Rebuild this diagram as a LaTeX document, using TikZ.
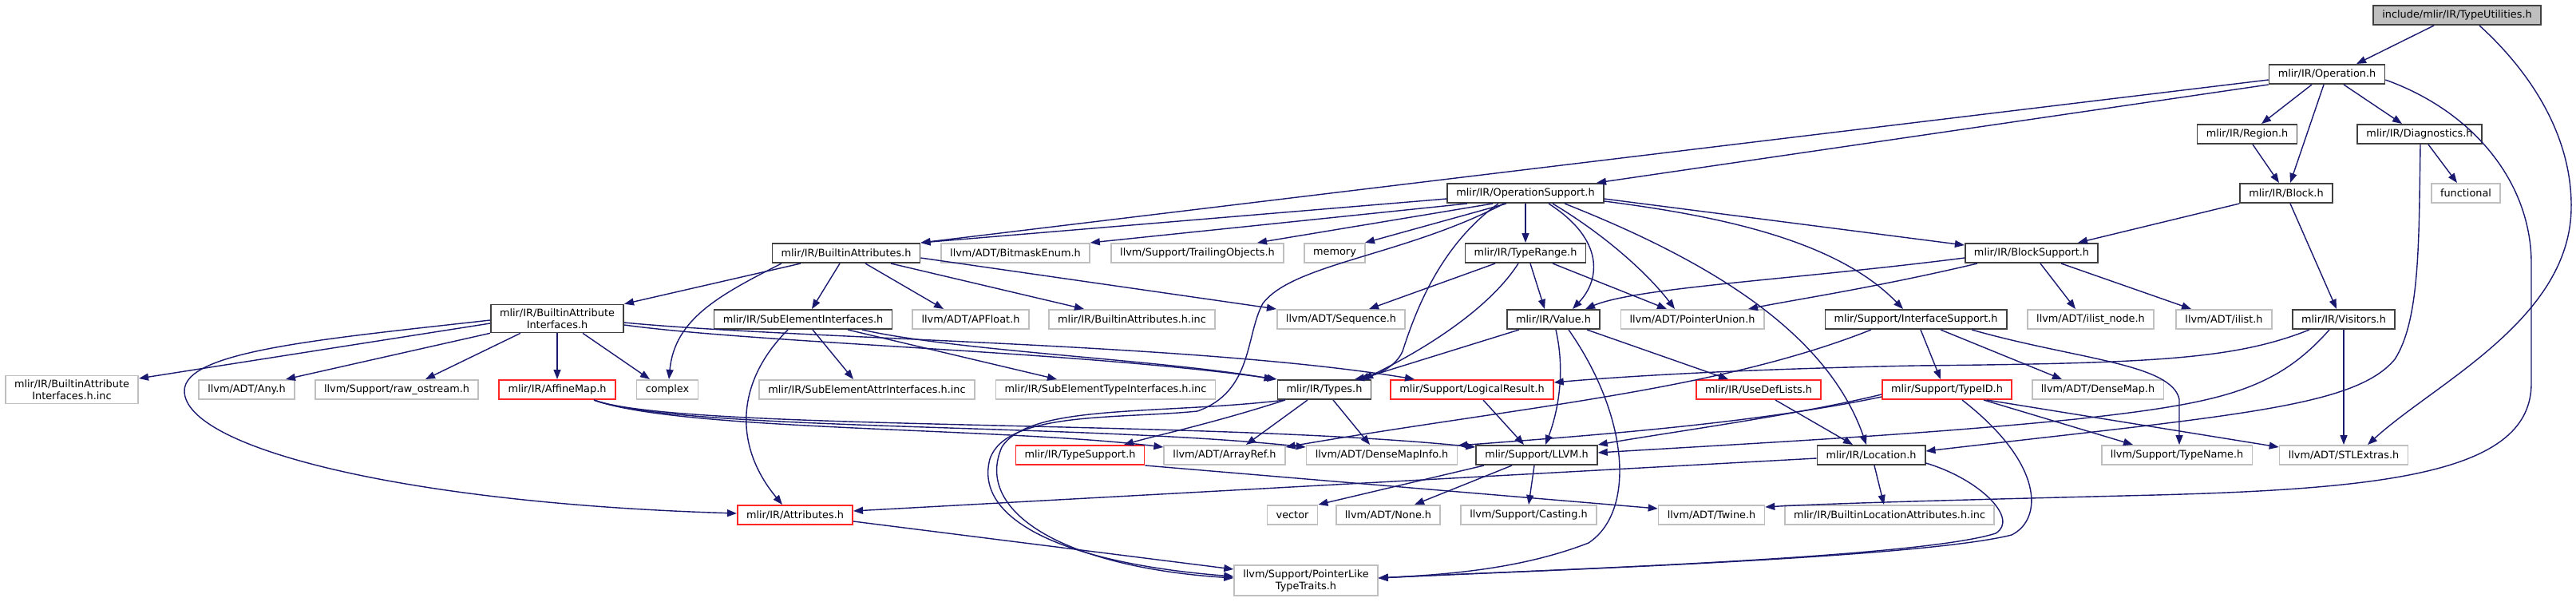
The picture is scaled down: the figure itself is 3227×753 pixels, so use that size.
\documentclass[tikz,border=0pt]{standalone}
\usepackage{fontspec}
\setmainfont{DejaVu Sans}
\usetikzlibrary{arrows.meta}

\definecolor{edgeblue}{HTML}{191970}
\tikzset{
  box/.style={draw, line width=1.7pt, inner xsep=11.2pt, inner ysep=5pt,
    minimum height=24.3pt, align=center, font=\fontsize{12.85}{15}\selectfont},
  doc/.style={box, draw=black!75},
  ext/.style={box, draw=black!25},
  trunc/.style={box, draw=red!85!white},
  rootbox/.style={box, draw=black!75, fill=black!25},
  edge/.style={draw=edgeblue, line width=1.4pt, -{Triangle[length=12pt,width=9pt]}},
}

\begin{document}
\begin{tikzpicture}[x=1pt,y=-1pt]
  % Sfondo
  \fill[white] (0,0) rectangle (3227,753);
  \useasboundingbox (0,0) rectangle (3227,753);
  % Livelli 0-3
  \node[rootbox] (root) at (3078,19) {include/mlir/IR/TypeUtilities.h};
  \node[doc] (op) at (2915,93) {mlir/IR/Operation.h};
  \node[doc] (region) at (2815,168) {mlir/IR/Region.h};
  \node[doc] (diag) at (3031,168) {mlir/IR/Diagnostics.h};
  \node[doc] (opsupp) at (1911,242) {mlir/IR/OperationSupport.h};
  \node[doc] (block) at (2864,242) {mlir/IR/Block.h};
  \node[ext] (functional) at (3089,242) {functional};
  % Livello 4
  \node[doc] (battr) at (1060,317) {mlir/IR/BuiltinAttributes.h};
  \node[ext] (bitmask) at (1272,317) {llvm/ADT/BitmaskEnum.h};
  \node[ext] (trailing) at (1500,317) {llvm/Support/TrailingObjects.h};
  \node[ext] (memory) at (1672,317) {memory};
  \node[doc] (typerange) at (1911,317) {mlir/IR/TypeRange.h};
  \node[doc] (blocksupp) at (2545,317) {mlir/IR/BlockSupport.h};
  % Livello 5
  \node[doc] (bai) at (698,399) {mlir/IR/BuiltinAttribute\\Interfaces.h};
  \node[doc] (subelem) at (1006,400) {mlir/IR/SubElementInterfaces.h};
  \node[ext] (apfloat) at (1216,400) {llvm/ADT/APFloat.h};
  \node[ext] (battrinc) at (1418,400) {mlir/IR/BuiltinAttributes.h.inc};
  \node[ext] (sequence) at (1680,400) {llvm/ADT/Sequence.h};
  \node[doc] (value) at (1946,400) {mlir/IR/Value.h};
  \node[ext] (punion) at (2120,400) {llvm/ADT/PointerUnion.h};
  \node[doc] (ifsupp) at (2400,400) {mlir/Support/InterfaceSupport.h};
  \node[ext] (ilistnode) at (2619,400) {llvm/ADT/ilist\_node.h};
  \node[ext] (ilist) at (2786,400) {llvm/ADT/ilist.h};
  \node[doc] (visitors) at (2936,400) {mlir/IR/Visitors.h};
  % Livello 6
  \node[ext] (baiinc) at (90,488) {mlir/IR/BuiltinAttribute\\Interfaces.h.inc};
  \node[ext] (any) at (309,488) {llvm/ADT/Any.h};
  \node[ext] (rawos) at (497,488) {llvm/Support/raw\_ostream.h};
  \node[trunc] (affine) at (698,488) {mlir/IR/AffineMap.h};
  \node[ext] (complex) at (836,488) {complex};
  \node[ext] (seattr) at (1086,488) {mlir/IR/SubElementAttrInterfaces.h.inc};
  \node[ext] (setype) at (1385,488) {mlir/IR/SubElementTypeInterfaces.h.inc};
  \node[doc] (types) at (1659,488) {mlir/IR/Types.h};
  \node[trunc] (logres) at (1844,488) {mlir/Support/LogicalResult.h};
  \node[trunc] (usedef) at (2203,488) {mlir/IR/UseDefLists.h};
  \node[trunc] (typeid) at (2439,488) {mlir/Support/TypeID.h};
  \node[ext] (densemap) at (2628,488) {llvm/ADT/DenseMap.h};
  % Livello 7
  \node[trunc] (typesupp) at (1353,570) {mlir/IR/TypeSupport.h};
  \node[ext] (arrayref) at (1534,570) {llvm/ADT/ArrayRef.h};
  \node[ext] (dmi) at (1731,570) {llvm/ADT/DenseMapInfo.h};
  \node[doc] (llvm) at (1925,570) {mlir/Support/LLVM.h};
  \node[doc] (location) at (2344,570) {mlir/IR/Location.h};
  \node[ext] (typename) at (2727,570) {llvm/Support/TypeName.h};
  \node[ext] (stlextras) at (2936,570) {llvm/ADT/STLExtras.h};
  % Livelli 8-9
  \node[trunc] (attributes) at (996,645) {mlir/IR/Attributes.h};
  \node[ext] (vector) at (1619,645) {vector};
  \node[ext] (nonehdr) at (1739,645) {llvm/ADT/None.h};
  \node[ext] (casting) at (1915,645) {llvm/Support/Casting.h};
  \node[ext] (twine) at (2144,645) {llvm/ADT/Twine.h};
  \node[ext] (blai) at (2367,645) {mlir/IR/BuiltinLocationAttributes.h.inc};
  \node[ext] (plt) at (1636,727) {llvm/Support/PointerLike\\TypeTraits.h};

  % Archi: radice e Operation
  \draw[edge] ([xshift=-29]root.south) -- ([xshift=37]op.north);
  \draw[edge] ([xshift=28]root.south) .. controls (3170,90) and (3222,170) .. (3221,260) .. controls (3220,400) and (3050,480) .. ([xshift=30]stlextras.north);
  \draw[edge] ([yshift=-7]op.west) -- (battr.north east);
  \draw[edge] (op.south west) -- ([xshift=89]opsupp.north);
  \draw[edge] ([xshift=-19]op.south) -- ([xshift=18]region.north);
  \draw[edge] ([xshift=-4]op.south) -- ([xshift=5]block.north);
  \draw[edge] ([xshift=21]op.south) -- ([xshift=-22]diag.north);
  \draw[edge] ([yshift=-7]op.east) .. controls (3100,140) and (3171,230) .. (3171,330) -- (3171,480) .. controls (3171,590) and (3000,612) .. (2700,620) .. controls (2500,625) and (2300,630) .. ([yshift=10]twine.east);
  \draw[edge] ([xshift=7]region.south) -- ([xshift=-9]block.north);
  \draw[edge] ([xshift=11]diag.south) -- ([xshift=-11]functional.north);
  \draw[edge] ([xshift=1]diag.south) .. controls (3030,300) and (3032,400) .. (3000,450) .. controls (2950,510) and (2800,520) .. ([yshift=5]location.east);
  \draw[edge] (block.south west) -- ([xshift=58]blocksupp.north);
  \draw[edge] ([xshift=5]block.south) -- ([xshift=-9]visitors.north);

  % OperationSupport
  \draw[edge] ([yshift=-7]opsupp.west) -- (battr.north east);
  \draw[edge] ([xshift=-73]opsupp.south) -- (bitmask.north east);
  \draw[edge] ([xshift=-41]opsupp.south) -- ([xshift=75]trailing.north);
  \draw[edge] ([xshift=-24]opsupp.south) -- ([xshift=38]memory.north);
  \draw[edge] (opsupp.south) -- (typerange.north);
  \draw[edge] ([xshift=-34]opsupp.south) .. controls (1800,310) and (1770,400) .. (1757,440) .. controls (1748,460) and (1725,470) .. ([xshift=38]types.north);
  \draw[edge] ([xshift=-27]opsupp.south) .. controls (1760,320) and (1620,330) .. (1582,380) .. controls (1560,420) and (1570,490) .. (1500,515) .. controls (1400,525) and (1260,515) .. (1240,575) .. controls (1220,650) and (1330,705) .. ([yshift=5]plt.west);
  \draw[edge] ([xshift=29]opsupp.south) .. controls (2010,300) and (2005,350) .. ([xshift=24]value.north);
  \draw[edge] ([xshift=34]opsupp.south) .. controls (2020,300) and (2070,350) .. ([xshift=-22]punion.north);
  \draw[edge] ([xshift=49]opsupp.south) .. controls (2150,330) and (2290,420) .. ([xshift=-6]location.north);
  \draw[edge] ([yshift=-10]opsupp.east) .. controls (2150,270) and (2300,300) .. ([xshift=-16]ifsupp.north);
  \draw[edge] ([yshift=-7]opsupp.east) -- ([yshift=10]blocksupp.west);

  % BuiltinAttributes
  \draw[edge] ([xshift=-57]battr.south) -- (bai.north east);
  \draw[edge] ([xshift=-8]battr.south) -- ([xshift=11]subelem.north);
  \draw[edge] ([xshift=-81]battr.south) .. controls (900,370) and (845,400) .. ([xshift=2]complex.north);
  \draw[edge] ([xshift=24]battr.south) -- ([xshift=-34]apfloat.north);
  \draw[edge] ([xshift=56]battr.south) -- ([xshift=-60]battrinc.north);
  \draw[edge] ([yshift=-6]battr.east) -- (sequence.north west);

  % BuiltinAttributeInterfaces
  \draw[edge] ([yshift=-6]bai.west) -- ([yshift=14]baiinc.east);
  \draw[edge] ([yshift=-2]bai.west) .. controls (400,425) and (230,440) .. (231,490) .. controls (232,560) and (500,630) .. ([yshift=2]attributes.west);
  \draw[edge] (bai.south west) -- ([xshift=49]any.north);
  \draw[edge] ([xshift=-46]bai.south) -- ([xshift=36]rawos.north);
  \draw[edge] (bai.south) -- (affine.north);
  \draw[edge] ([xshift=32]bai.south) -- ([xshift=-22]complex.north);
  \draw[edge] ([yshift=-8]bai.east) .. controls (950,430) and (1350,440) .. (types.north west);
  \draw[edge] ([yshift=-5]bai.east) .. controls (1000,425) and (1500,430) .. ([xshift=-72]logres.north);

  % SubElementInterfaces
  \draw[edge] ([xshift=-19]subelem.south) .. controls (920,480) and (920,560) .. ([xshift=-16]attributes.north);
  \draw[edge] ([xshift=12]subelem.south) -- ([xshift=-17]seattr.north);
  \draw[edge] ([xshift=56]subelem.south) -- ([xshift=-61]setype.north);
  \draw[edge] ([xshift=74]subelem.south) .. controls (1200,440) and (1450,450) .. ([xshift=-4]types.north west);

  % TypeRange e BlockSupport
  \draw[edge] ([xshift=-38]typerange.south) -- ([xshift=35]sequence.north);
  \draw[edge] ([xshift=-9]typerange.south) .. controls (1870,380) and (1800,430) .. ([xshift=49]types.north);
  \draw[edge] ([xshift=6]typerange.south) -- ([xshift=-11]value.north);
  \draw[edge] ([xshift=34]typerange.south) -- ([xshift=-32]punion.north);
  \draw[edge] ([yshift=-6]blocksupp.west) .. controls (2250,350) and (2050,360) .. ([xshift=40]value.north);
  \draw[edge] ([xshift=-68]blocksupp.south) .. controls (2350,360) and (2250,375) .. ([xshift=70]punion.north);
  \draw[edge] ([xshift=11]blocksupp.south) -- ([xshift=-19]ilistnode.north);
  \draw[edge] ([xshift=37]blocksupp.south) -- ([xshift=-41]ilist.north);

  % Value e Types
  \draw[edge] ([xshift=-43]value.south) -- ([xshift=44]types.north);
  \draw[edge] ([xshift=3]value.south) .. controls (1962,470) and (1950,520) .. ([xshift=11]llvm.north);
  \draw[edge] ([xshift=19]value.south) .. controls (2040,520) and (2050,640) .. (1990,680) .. controls (1900,715) and (1800,720) .. ([yshift=3]plt.east);
  \draw[edge] ([xshift=42]value.south) -- ([xshift=-38]usedef.north);
  \draw[edge] ([xshift=-49]types.south) .. controls (1520,530) and (1450,545) .. ([xshift=55]typesupp.north);
  \draw[edge] ([xshift=-21]types.south) -- ([xshift=27]arrayref.north);
  \draw[edge] ([xshift=11]types.south) -- ([xshift=-15]dmi.north);
  \draw[edge] ([xshift=-49]types.south) .. controls (1450,520) and (1290,505) .. (1255,560) .. controls (1220,640) and (1330,710) .. ([yshift=3]plt.west);
  \draw[edge] ([xshift=14]logres.south) -- ([xshift=-16]llvm.north);

  % AffineMap
  \draw[edge] ([xshift=46]affine.south) .. controls (850,540) and (1250,535) .. ([yshift=10]arrayref.west);
  \draw[edge] ([xshift=46]affine.south) .. controls (850,540) and (1350,530) .. ([yshift=10]dmi.west);
  \draw[edge] ([xshift=46]affine.south) .. controls (850,540) and (1500,525) .. ([yshift=10]llvm.west);

  % InterfaceSupport e Visitors
  \draw[edge] ([xshift=6]ifsupp.south) -- ([xshift=-8]typeid.north);
  \draw[edge] ([xshift=31]ifsupp.south) -- ([xshift=-45]densemap.north);
  \draw[edge] ([xshift=70]ifsupp.south) .. controls (2600,450) and (2720,455) .. (2730,500) -- ([xshift=3]typename.north);
  \draw[edge] ([xshift=-56]ifsupp.south) .. controls (2150,490) and (1900,510) .. ([yshift=10]arrayref.east);
  \draw[edge] ([xshift=-43]visitors.south) .. controls (2800,450) and (2700,455) .. (2400,458) .. controls (2200,462) and (2050,470) .. ([yshift=9]logres.east);
  \draw[edge] ([xshift=-18]visitors.south) .. controls (2850,490) and (2780,505) .. (2600,525) .. controls (2400,545) and (2200,555) .. ([yshift=3]llvm.east);
  \draw[edge] (visitors.south) -- (stlextras.north);
  \draw[edge] ([xshift=21]usedef.south) -- ([xshift=-23]location.north);

  % TypeID
  \draw[edge] ([xshift=46]typeid.south) -- ([xshift=-55]typename.north);
  \draw[edge] ([xshift=50]typeid.south) -- ([yshift=10]stlextras.west);
  \draw[edge] ([yshift=-6]typeid.west) .. controls (2250,520) and (2100,540) .. ([yshift=13]llvm.east);
  \draw[edge] ([yshift=-9]typeid.west) .. controls (2200,530) and (2000,545) .. ([yshift=12]dmi.east);
  \draw[edge] ([xshift=19]typeid.south) .. controls (2560,580) and (2560,650) .. (2520,670) .. controls (2400,700) and (1900,715) .. ([yshift=3]plt.east);

  % Location, LLVM e altri
  \draw[edge] ([yshift=-4]location.west) -- ([yshift=5]attributes.east);
  \draw[edge] ([xshift=4]location.south) -- ([xshift=-7]blai.north);
  \draw[edge] ([yshift=-10]location.east) .. controls (2480,600) and (2530,650) .. (2500,668) .. controls (2400,700) and (1900,715) .. ([yshift=3]plt.east);
  \draw[edge] ([xshift=-66]llvm.south) -- (vector.north east);
  \draw[edge] ([xshift=-31]llvm.south) -- ([xshift=33]nonehdr.north);
  \draw[edge] ([xshift=-3]llvm.south) -- (casting.north);
  \draw[edge] (typesupp.south east) -- ([yshift=8]twine.west);
  \draw[edge] ([yshift=-8]attributes.east) -- ([yshift=14]plt.west);
\end{tikzpicture}
\end{document}
